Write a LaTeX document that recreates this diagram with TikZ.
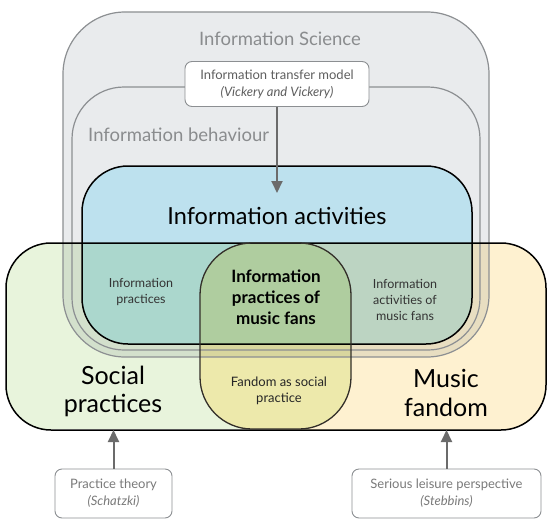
\documentclass[tikz,border=0pt]{standalone}
\usepackage{fontspec}
\setmainfont{Lato}
\usetikzlibrary{arrows.meta}
\definecolor{scifill}{HTML}{E9EBED}
\definecolor{scilinec}{HTML}{8C8F92}
\definecolor{actblue}{HTML}{BDE1EE}
\definecolor{socgreen}{HTML}{E8F4DC}
\definecolor{musyellow}{HTML}{FEF1D0}
\definecolor{ovalfill}{HTML}{EDE9AB}
\definecolor{txtgray}{HTML}{8A8C8E}
\definecolor{reftxt}{HTML}{7A7A7A}
\definecolor{boxtxt}{HTML}{5E5E5E}
\definecolor{arrgray}{HTML}{6B6B6B}
\pgfdeclarelayer{bg}
\pgfdeclarelayer{mid}
\pgfsetlayers{bg,mid,main}
\tikzset{
  region/.style={rectangle, inner sep=0pt, outer sep=0pt},
  refbox/.style={rectangle, draw=scilinec, line width=0.9pt, fill=white, rounded corners=7pt, inner sep=0pt, align=center, font=\fontsize{13}{17}\selectfont, text=boxtxt},
  arr/.style={draw=arrgray, line width=2pt, -{Triangle[length=12pt,width=11pt]}},
  lbl/.style={align=center, inner sep=0pt},
}
\begin{document}
\begin{tikzpicture}[x=1pt,y=-1pt]
\begin{pgfonlayer}{bg}
\path[use as bounding box, fill=white] (0,0) rectangle (551,527);
\end{pgfonlayer}
% region shapes (outlines)
\node[region, minimum width=426pt, minimum height=345pt] (sci) at (276,184.5) {};
\node[region, minimum width=408pt, minimum height=263pt] (beh) at (276,218.5) {};
\node[region, minimum width=390pt, minimum height=178pt] (act) at (277,255) {};
\node[region, minimum width=540pt, minimum height=187pt] (low) at (276,336.5) {};
\node[region, minimum width=151pt, minimum height=186pt] (ovl) at (275.5,336) {};
% fills
\begin{pgfonlayer}{bg}
  \begin{scope}
    \clip[rounded corners=45pt] (low.north west) rectangle (low.south east);
    \fill[socgreen] (low.north west) rectangle (ovl.south);
    \fill[musyellow] (ovl.north) rectangle (low.south east);
  \end{scope}
  \fill[ovalfill, rounded corners=52pt] (ovl.north west) rectangle (ovl.south east);
\end{pgfonlayer}
\begin{pgfonlayer}{mid}
  \begin{scope}[blend mode=multiply]
    \fill[scifill, even odd rule] [rounded corners=62pt] (sci.north west) rectangle (sci.south east)
      [rounded corners=46pt] (act.north west) rectangle (act.south east);
    \fill[actblue, rounded corners=46pt] (act.north west) rectangle (act.south east);
  \end{scope}
\end{pgfonlayer}
% outlines
\draw[scilinec, line width=1.2pt, rounded corners=62pt] (sci.north west) rectangle (sci.south east);
\draw[scilinec, line width=1.2pt, rounded corners=52pt] (beh.north west) rectangle (beh.south east);
\draw[black, line width=1.5pt, rounded corners=46pt] (act.north west) rectangle (act.south east);
\draw[black, line width=1.5pt, rounded corners=45pt] (low.north west) rectangle (low.south east);
\draw[black!85!olive, line width=1.3pt, rounded corners=52pt] (ovl.north west) rectangle (ovl.south east);
% labels
\node[lbl, text=txtgray, font=\fontsize{18.5}{22}\selectfont] (tsci) at (280,39) {Information Science};
\node[lbl, text=txtgray, font=\fontsize{18.5}{22}\selectfont, anchor=west] (tbeh) at (88,135) {Information behaviour};
\node[lbl, font=\fontsize{23.5}{28}\selectfont] (tact) at (277,216) {Information activities};
\node[lbl, font=\fontsize{12.5}{16}\selectfont, text=black!80] (tip) at (141,292) {Information\\practices};
\node[lbl, font=\fontsize{17}{21}\selectfont\bfseries] (tipm) at (276,297) {Information\\practices of\\music fans};
\node[lbl, font=\fontsize{12.5}{16}\selectfont, text=black!80] (tiam) at (405,300) {Information\\activities of\\music fans};
\node[lbl, font=\fontsize{25}{28}\selectfont] (tsoc) at (113,391) {Social\\practices};
\node[lbl, font=\fontsize{25}{29}\selectfont] (tmus) at (446,393) {Music\\fandom};
\node[lbl, font=\fontsize{13}{16}\selectfont, text=black!85] (tfan) at (279,391) {Fandom as social\\practice};
% reference boxes
\node[refbox, minimum width=184pt, minimum height=45pt] (itm) at (277,84) {Information transfer model\\\textit{(Vickery and Vickery)}};
\node[refbox, minimum width=117pt, minimum height=49pt, text=reftxt] (pt) at (113.5,493.5) {Practice theory\\\textit{(Schatzki)}};
\node[refbox, minimum width=189pt, minimum height=49pt, text=reftxt] (sl) at (446.5,493.5) {Serious leisure perspective\\\textit{(Stebbins)}};
% arrows
\coordinate (acttip) at (277,193);
\draw[arr] (itm.south) -- (acttip);
\draw[arr] (pt.north) -- (pt.north |- low.south);
\draw[arr] (sl.north) -- (sl.north |- low.south);
\end{tikzpicture}
\end{document}
